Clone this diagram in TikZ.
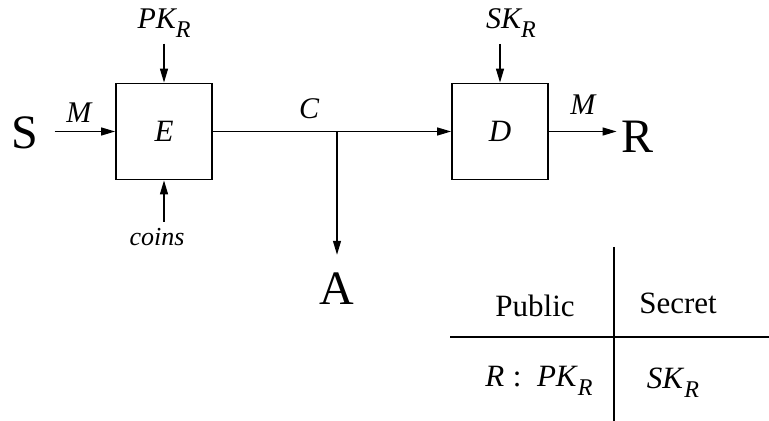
\documentclass[tikz,border=0pt]{standalone}
\usepackage{fontspec}
\setmainfont{Liberation Serif}
\usetikzlibrary{arrows.meta}
\newcommand{\keyR}[1]{\textit{#1}\raisebox{-0.3em}{\fontsize{12}{14}\selectfont\textit{R}}}
\begin{document}
\begin{tikzpicture}[x=0.5pt,y=-0.5pt,
        box/.style={draw,line width=0.9pt,minimum size=48pt,inner sep=0pt,font=\fontsize{15.5}{18}\selectfont\itshape},
        lbl/.style={inner sep=3pt,font=\fontsize{15}{18}\selectfont\itshape},
        party/.style={inner sep=2pt,font=\fontsize{24}{28}\selectfont},
        cell/.style={inner sep=2pt,font=\fontsize{15.5}{18}\selectfont},
        flow/.style={line width=0.65pt,-{Triangle[length=7pt,width=4pt]}}]
    \useasboundingbox (0,0) rectangle (769,421);
    % parties
    \node[party] (S) at (25,133) {S};
    \node[party] (R) at (637,137) {R};
    \node[party] (A) at (337,289) {A};
    % boxes
    \node[box] (E) at (164,131.5) {E};
    \node[box] (D) at (500,131.5) {D};
    % inputs
    \node[lbl] (pk) at (164,23) {\keyR{PK}};
    \node[lbl] (sk) at (511,23) {\keyR{SK}};
    \node[lbl,font=\fontsize{13}{15}\selectfont\itshape] (coins) at (157,237) {coins};
    \draw[flow] (E.north |- pk.south) -- (E.north);
    \draw[flow] (D.north |- sk.south) -- (D.north);
    \draw[flow] (E.south |- coins.north) -- (E.south);
    % message flow
    \coordinate (tap) at (337,131);
    \draw[flow,shorten <=6pt] (S.east |- E.west) -- (E.west) node[lbl,midway,above=1pt] (m1) {M};
    \draw[flow] (E.east) -- (D.west);
    \node[lbl] (c) at (309,109) {C};
    \draw[flow,shorten >=7pt] (tap) -- (A.north);
    \draw[flow] (D.east) -- (D.east -| R.west) node[lbl,midway,above=5pt] (m2) {M};
    % key table
    \draw[line width=0.65pt] (614,247) -- (614,421);
    \draw[line width=0.65pt] (450,337) -- (769,337);
    \node[cell] (pub) at (535,306) {Public};
    \node[cell] (sec) at (678,303) {Secret};
    \node[cell,font=\fontsize{15.5}{18}\selectfont] (pkr) at (539,381) {\textit{R}\;:\ \ \keyR{PK}};
    \node[cell] (skr) at (673,383) {\keyR{SK}};
\end{tikzpicture}
\end{document}
